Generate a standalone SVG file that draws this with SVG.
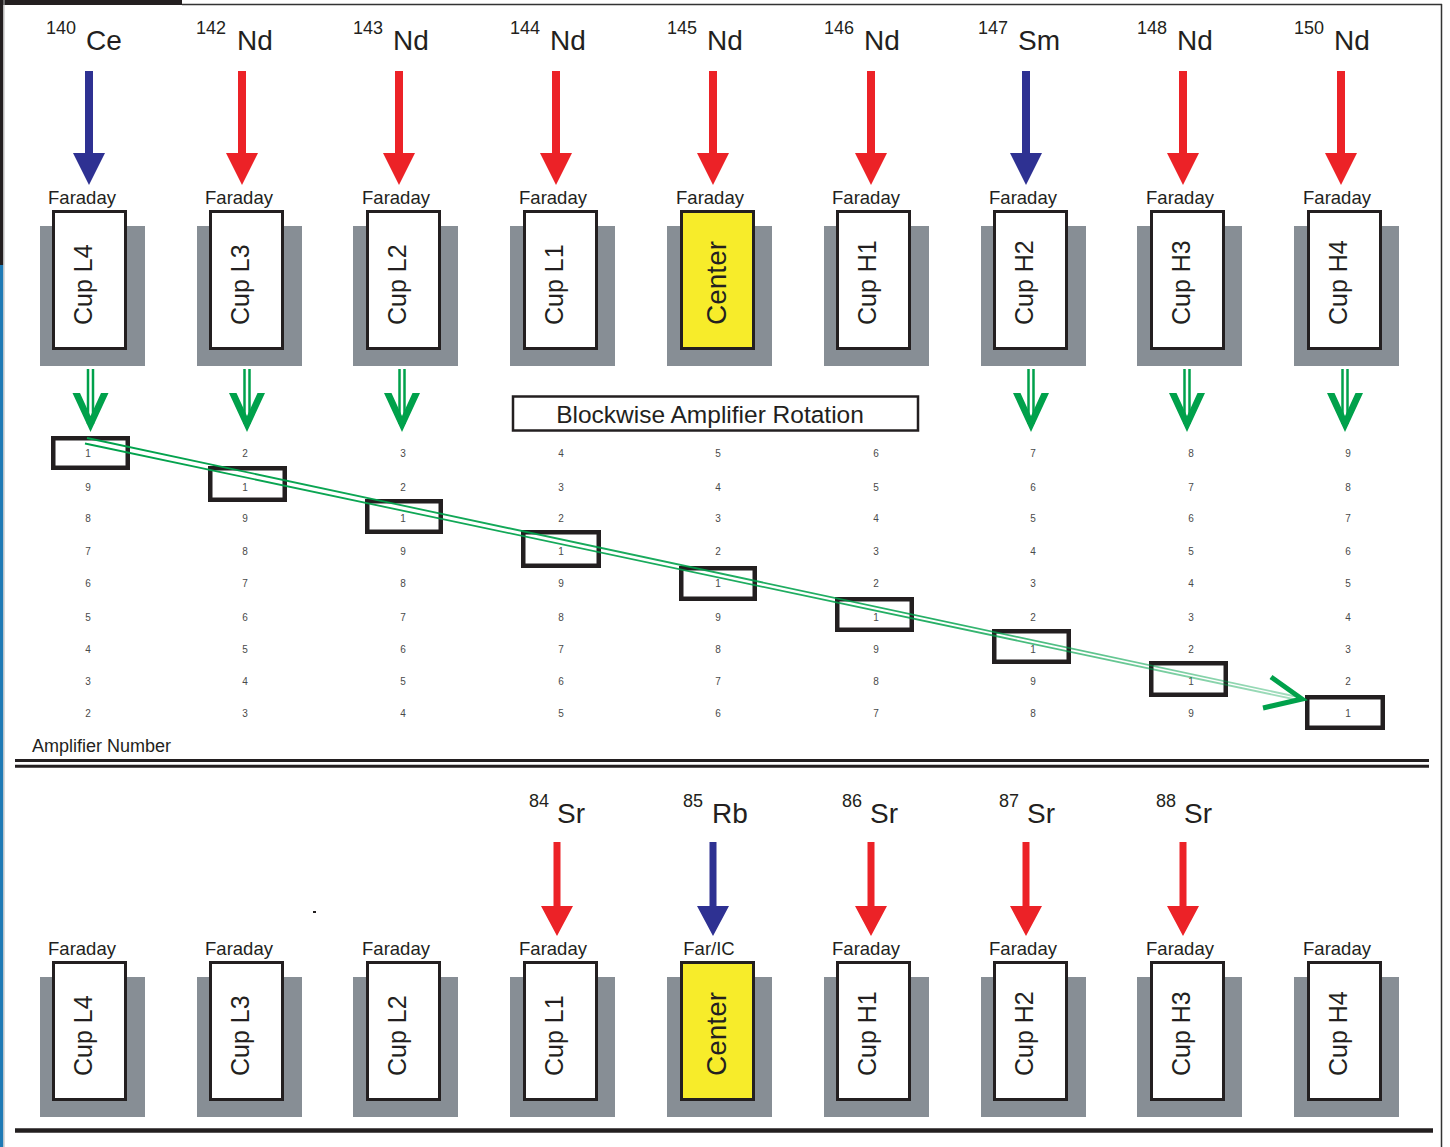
<svg xmlns="http://www.w3.org/2000/svg" width="1450" height="1147" viewBox="0 0 1450 1147">
<style>
text{font-family:"Liberation Sans",Arial,Helvetica,sans-serif;fill:#231f20}
.mass{font-size:18px}
.el{font-size:28px}
.far{font-size:18.5px;text-anchor:middle}
.cupt{font-size:25px}
.cent{font-size:28px}
.gray{fill:#878e95}
.box{fill:#fff;stroke:#231f20;stroke-width:3}
.ybox{fill:#f7ec2a;stroke:#231f20;stroke-width:3}
.num{font-size:10px;text-anchor:middle;fill:#4a4a4a}
.hl{fill:none;stroke:#231f20;stroke-width:4.5}
.red{fill:#ec2227}
.blue{fill:#2e3192}
.grn{fill:#00a14b}
.gl{stroke:#00a14b;stroke-width:2.5}
.diag{stroke:url(#fade);stroke-width:1.8;fill:none}
.rule{stroke:#231f20}
</style>
<defs>
<path id="beamT" d="M-4,0H4V82H16L0,114L-16,82H-4Z"/>
<path id="beamB" d="M-3.5,0H3.5V64H16L0,94L-16,64H-3.5Z"/>
<g id="gdown">
<line class="gl" x1="-2.5" y1="369" x2="-2.5" y2="424"/>
<line class="gl" x1="2.5" y1="369" x2="2.5" y2="424"/>
<polygon class="grn" points="-18,393 -10.5,393 0,416 10.5,393 18,393 0,432"/>
</g>
<linearGradient id="fade" x1="0" y1="0" x2="1" y2="0">
<stop offset="0" stop-color="#00a14b" stop-opacity="1"/>
<stop offset="0.7" stop-color="#00a14b" stop-opacity="0.85"/>
<stop offset="1" stop-color="#00a14b" stop-opacity="0.35"/>
</linearGradient>
</defs>
<rect width="1450" height="1147" fill="#fff"/>
<g id="frame">
<rect x="0" y="0" width="182" height="5" fill="#231f20"/>
<line x1="182" y1="4.5" x2="1442" y2="4.5" stroke="#333" stroke-width="1.5"/>
<line x1="1441.5" y1="4" x2="1441.5" y2="1147" stroke="#333" stroke-width="1.5"/>
<rect x="0" y="0" width="3.3" height="265" fill="#231f20"/>
<rect x="0" y="265" width="3.3" height="882" fill="#1f7ab5"/>
<line x1="4" y1="0" x2="4" y2="1147" stroke="#b5b5b5" stroke-width="1"/>
<line class="rule" x1="15" y1="760.5" x2="1429" y2="760.5" stroke-width="3"/>
<line class="rule" x1="15" y1="766.3" x2="1429" y2="766.3" stroke-width="3"/>
<line class="rule" x1="15" y1="1130.5" x2="1433" y2="1130.5" stroke-width="4.5"/>
<rect x="313" y="911" width="3" height="2" fill="#231f20"/>
</g>
<g id="top-ce140"><text class="mass" x="46" y="34">140</text><text class="el" x="86" y="50">Ce</text></g>
<g id="top-nd142"><text class="mass" x="196" y="34">142</text><text class="el" x="237" y="50">Nd</text></g>
<g id="top-nd143"><text class="mass" x="353" y="34">143</text><text class="el" x="393" y="50">Nd</text></g>
<g id="top-nd144"><text class="mass" x="510" y="34">144</text><text class="el" x="550" y="50">Nd</text></g>
<g id="top-nd145"><text class="mass" x="667" y="34">145</text><text class="el" x="707" y="50">Nd</text></g>
<g id="top-nd146"><text class="mass" x="824" y="34">146</text><text class="el" x="864" y="50">Nd</text></g>
<g id="top-sm147"><text class="mass" x="978" y="34">147</text><text class="el" x="1018" y="50">Sm</text></g>
<g id="top-nd148"><text class="mass" x="1137" y="34">148</text><text class="el" x="1177" y="50">Nd</text></g>
<g id="top-nd150"><text class="mass" x="1294" y="34">150</text><text class="el" x="1334" y="50">Nd</text></g>
<g id="top-cup-L4"><rect class="gray" x="40" y="226" width="105" height="140"/><rect class="box" x="53.5" y="211.5" width="72" height="137"/><text class="far" x="82" y="204">Faraday</text><text class="cupt" transform="translate(92,325) rotate(-90)">Cup L4</text></g>
<g id="top-cup-L3"><rect class="gray" x="197" y="226" width="105" height="140"/><rect class="box" x="210.5" y="211.5" width="72" height="137"/><text class="far" x="239" y="204">Faraday</text><text class="cupt" transform="translate(249,325) rotate(-90)">Cup L3</text></g>
<g id="top-cup-L2"><rect class="gray" x="353" y="226" width="105" height="140"/><rect class="box" x="367.5" y="211.5" width="72" height="137"/><text class="far" x="396" y="204">Faraday</text><text class="cupt" transform="translate(406,325) rotate(-90)">Cup L2</text></g>
<g id="top-cup-L1"><rect class="gray" x="510" y="226" width="105" height="140"/><rect class="box" x="524.5" y="211.5" width="72" height="137"/><text class="far" x="553" y="204">Faraday</text><text class="cupt" transform="translate(563,325) rotate(-90)">Cup L1</text></g>
<g id="top-cup-C"><rect class="gray" x="667" y="226" width="105" height="140"/><rect class="ybox" x="681.5" y="211.5" width="72" height="137"/><text class="far" x="710" y="204">Faraday</text><text class="cent" transform="translate(726,325) rotate(-90)">Center</text></g>
<g id="top-cup-H1"><rect class="gray" x="824" y="226" width="105" height="140"/><rect class="box" x="837.5" y="211.5" width="72" height="137"/><text class="far" x="866" y="204">Faraday</text><text class="cupt" transform="translate(876,325) rotate(-90)">Cup H1</text></g>
<g id="top-cup-H2"><rect class="gray" x="981" y="226" width="105" height="140"/><rect class="box" x="994.5" y="211.5" width="72" height="137"/><text class="far" x="1023" y="204">Faraday</text><text class="cupt" transform="translate(1033,325) rotate(-90)">Cup H2</text></g>
<g id="top-cup-H3"><rect class="gray" x="1137" y="226" width="105" height="140"/><rect class="box" x="1151.5" y="211.5" width="72" height="137"/><text class="far" x="1180" y="204">Faraday</text><text class="cupt" transform="translate(1190,325) rotate(-90)">Cup H3</text></g>
<g id="top-cup-H4"><rect class="gray" x="1294" y="226" width="105" height="140"/><rect class="box" x="1308.5" y="211.5" width="72" height="137"/><text class="far" x="1337" y="204">Faraday</text><text class="cupt" transform="translate(1347,325) rotate(-90)">Cup H4</text></g>
<g id="rotation-label"><rect x="513" y="396.5" width="405" height="34" fill="#fff" stroke="#231f20" stroke-width="2.5"/><text x="710" y="423" font-size="24.5" text-anchor="middle">Blockwise Amplifier Rotation</text></g>
<g id="amp-grid">
<text class="num" x="88" y="457">1</text><text class="num" x="88" y="491">9</text><text class="num" x="88" y="522">8</text><text class="num" x="88" y="555">7</text><text class="num" x="88" y="587">6</text><text class="num" x="88" y="621">5</text><text class="num" x="88" y="653">4</text><text class="num" x="88" y="685">3</text><text class="num" x="88" y="717">2</text>
<text class="num" x="245" y="457">2</text><text class="num" x="245" y="491">1</text><text class="num" x="245" y="522">9</text><text class="num" x="245" y="555">8</text><text class="num" x="245" y="587">7</text><text class="num" x="245" y="621">6</text><text class="num" x="245" y="653">5</text><text class="num" x="245" y="685">4</text><text class="num" x="245" y="717">3</text>
<text class="num" x="403" y="457">3</text><text class="num" x="403" y="491">2</text><text class="num" x="403" y="522">1</text><text class="num" x="403" y="555">9</text><text class="num" x="403" y="587">8</text><text class="num" x="403" y="621">7</text><text class="num" x="403" y="653">6</text><text class="num" x="403" y="685">5</text><text class="num" x="403" y="717">4</text>
<text class="num" x="561" y="457">4</text><text class="num" x="561" y="491">3</text><text class="num" x="561" y="522">2</text><text class="num" x="561" y="555">1</text><text class="num" x="561" y="587">9</text><text class="num" x="561" y="621">8</text><text class="num" x="561" y="653">7</text><text class="num" x="561" y="685">6</text><text class="num" x="561" y="717">5</text>
<text class="num" x="718" y="457">5</text><text class="num" x="718" y="491">4</text><text class="num" x="718" y="522">3</text><text class="num" x="718" y="555">2</text><text class="num" x="718" y="587">1</text><text class="num" x="718" y="621">9</text><text class="num" x="718" y="653">8</text><text class="num" x="718" y="685">7</text><text class="num" x="718" y="717">6</text>
<text class="num" x="876" y="457">6</text><text class="num" x="876" y="491">5</text><text class="num" x="876" y="522">4</text><text class="num" x="876" y="555">3</text><text class="num" x="876" y="587">2</text><text class="num" x="876" y="621">1</text><text class="num" x="876" y="653">9</text><text class="num" x="876" y="685">8</text><text class="num" x="876" y="717">7</text>
<text class="num" x="1033" y="457">7</text><text class="num" x="1033" y="491">6</text><text class="num" x="1033" y="522">5</text><text class="num" x="1033" y="555">4</text><text class="num" x="1033" y="587">3</text><text class="num" x="1033" y="621">2</text><text class="num" x="1033" y="653">1</text><text class="num" x="1033" y="685">9</text><text class="num" x="1033" y="717">8</text>
<text class="num" x="1191" y="457">8</text><text class="num" x="1191" y="491">7</text><text class="num" x="1191" y="522">6</text><text class="num" x="1191" y="555">5</text><text class="num" x="1191" y="587">4</text><text class="num" x="1191" y="621">3</text><text class="num" x="1191" y="653">2</text><text class="num" x="1191" y="685">1</text><text class="num" x="1191" y="717">9</text>
<text class="num" x="1348" y="457">9</text><text class="num" x="1348" y="491">8</text><text class="num" x="1348" y="522">7</text><text class="num" x="1348" y="555">6</text><text class="num" x="1348" y="587">5</text><text class="num" x="1348" y="621">4</text><text class="num" x="1348" y="653">3</text><text class="num" x="1348" y="685">2</text><text class="num" x="1348" y="717">1</text>
<text x="32" y="752" font-size="18">Amplifier Number</text>
</g>
<g id="highlights">
<rect class="hl" x="53.25" y="438.25" width="74.5" height="29.5"/>
<rect class="hl" x="210.25" y="468.25" width="74.5" height="31.5"/>
<rect class="hl" x="367.25" y="501.25" width="73.5" height="30.5"/>
<rect class="hl" x="523.25" y="532.25" width="75.5" height="33.5"/>
<rect class="hl" x="681.25" y="568.25" width="73.5" height="30.5"/>
<rect class="hl" x="837.25" y="599.25" width="74.5" height="30.5"/>
<rect class="hl" x="994.25" y="631.25" width="74.5" height="30.5"/>
<rect class="hl" x="1151.25" y="663.25" width="74.5" height="31.5"/>
<rect class="hl" x="1307.25" y="697.25" width="75.5" height="30.5"/>
</g>
<g id="bot-sr84"><text class="mass" x="529" y="807">84</text><text class="el" x="557" y="823">Sr</text></g>
<g id="bot-rb85"><text class="mass" x="683" y="807">85</text><text class="el" x="712" y="823">Rb</text></g>
<g id="bot-sr86"><text class="mass" x="842" y="807">86</text><text class="el" x="870" y="823">Sr</text></g>
<g id="bot-sr87"><text class="mass" x="999" y="807">87</text><text class="el" x="1027" y="823">Sr</text></g>
<g id="bot-sr88"><text class="mass" x="1156" y="807">88</text><text class="el" x="1184" y="823">Sr</text></g>
<g id="bot-cup-L4"><rect class="gray" x="40" y="977" width="105" height="140"/><rect class="box" x="53.5" y="962.5" width="72" height="137"/><text class="far" x="82" y="955">Faraday</text><text class="cupt" transform="translate(92,1076) rotate(-90)">Cup L4</text></g>
<g id="bot-cup-L3"><rect class="gray" x="197" y="977" width="105" height="140"/><rect class="box" x="210.5" y="962.5" width="72" height="137"/><text class="far" x="239" y="955">Faraday</text><text class="cupt" transform="translate(249,1076) rotate(-90)">Cup L3</text></g>
<g id="bot-cup-L2"><rect class="gray" x="353" y="977" width="105" height="140"/><rect class="box" x="367.5" y="962.5" width="72" height="137"/><text class="far" x="396" y="955">Faraday</text><text class="cupt" transform="translate(406,1076) rotate(-90)">Cup L2</text></g>
<g id="bot-cup-L1"><rect class="gray" x="510" y="977" width="105" height="140"/><rect class="box" x="524.5" y="962.5" width="72" height="137"/><text class="far" x="553" y="955">Faraday</text><text class="cupt" transform="translate(563,1076) rotate(-90)">Cup L1</text></g>
<g id="bot-cup-C"><rect class="gray" x="667" y="977" width="105" height="140"/><rect class="ybox" x="681.5" y="962.5" width="72" height="137"/><text class="far" x="709" y="955">Far/IC</text><text class="cent" transform="translate(726,1076) rotate(-90)">Center</text></g>
<g id="bot-cup-H1"><rect class="gray" x="824" y="977" width="105" height="140"/><rect class="box" x="837.5" y="962.5" width="72" height="137"/><text class="far" x="866" y="955">Faraday</text><text class="cupt" transform="translate(876,1076) rotate(-90)">Cup H1</text></g>
<g id="bot-cup-H2"><rect class="gray" x="981" y="977" width="105" height="140"/><rect class="box" x="994.5" y="962.5" width="72" height="137"/><text class="far" x="1023" y="955">Faraday</text><text class="cupt" transform="translate(1033,1076) rotate(-90)">Cup H2</text></g>
<g id="bot-cup-H3"><rect class="gray" x="1137" y="977" width="105" height="140"/><rect class="box" x="1151.5" y="962.5" width="72" height="137"/><text class="far" x="1180" y="955">Faraday</text><text class="cupt" transform="translate(1190,1076) rotate(-90)">Cup H3</text></g>
<g id="bot-cup-H4"><rect class="gray" x="1294" y="977" width="105" height="140"/><rect class="box" x="1308.5" y="962.5" width="72" height="137"/><text class="far" x="1337" y="955">Faraday</text><text class="cupt" transform="translate(1347,1076) rotate(-90)">Cup H4</text></g>
<g id="connectors">
<use href="#beamT" class="blue" x="89" y="71"/>
<use href="#beamT" class="red" x="242" y="71"/>
<use href="#beamT" class="red" x="399" y="71"/>
<use href="#beamT" class="red" x="556" y="71"/>
<use href="#beamT" class="red" x="713" y="71"/>
<use href="#beamT" class="red" x="871" y="71"/>
<use href="#beamT" class="blue" x="1026" y="71"/>
<use href="#beamT" class="red" x="1183" y="71"/>
<use href="#beamT" class="red" x="1341" y="71"/>
<use href="#beamB" class="red" x="557" y="842"/>
<use href="#beamB" class="blue" x="713" y="842"/>
<use href="#beamB" class="red" x="871" y="842"/>
<use href="#beamB" class="red" x="1026" y="842"/>
<use href="#beamB" class="red" x="1183" y="842"/>
<use href="#gdown" x="90.5" y="0"/>
<use href="#gdown" x="247" y="0"/>
<use href="#gdown" x="402" y="0"/>
<use href="#gdown" x="1031" y="0"/>
<use href="#gdown" x="1187" y="0"/>
<use href="#gdown" x="1345" y="0"/>
<line class="diag" x1="87" y1="438" x2="1298" y2="697"/>
<line class="diag" x1="85" y1="443.5" x2="1298" y2="700"/>
<polyline points="1271,677 1302,699 1263,708" fill="none" stroke="#00a14b" stroke-width="5"/>
</g>
</svg>
